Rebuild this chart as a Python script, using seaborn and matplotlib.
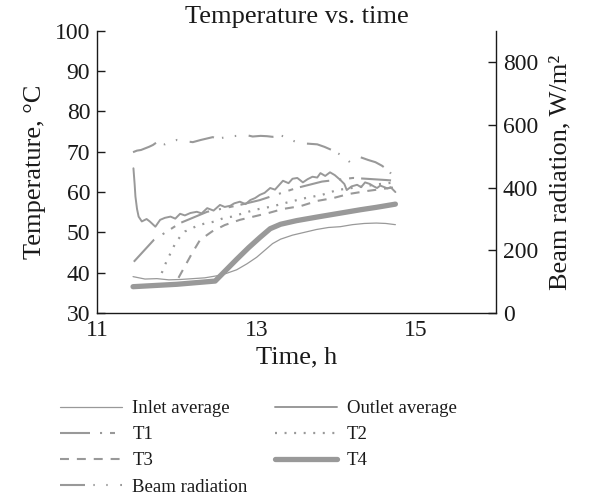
import matplotlib
matplotlib.use("Agg")
import matplotlib.pyplot as plt
import seaborn as sns
import pandas as pd

# ---------------- data ----------------
inlet_t = [11.45, 11.5, 11.6, 11.75, 11.9, 12.05, 12.2, 12.35, 12.5, 12.62, 12.75, 12.88,
           13.0, 13.1, 13.2, 13.3, 13.45, 13.6, 13.75, 13.9, 14.05, 14.2, 14.35, 14.5, 14.62, 14.74]
inlet_v = [39.0, 38.8, 38.4, 38.5, 38.2, 38.3, 38.5, 38.7, 39.2, 39.8, 40.7, 42.2,
           43.8, 45.5, 47.2, 48.3, 49.3, 50.0, 50.7, 51.2, 51.4, 51.9, 52.2, 52.3, 52.2, 51.9]

outlet_t = [11.455, 11.47, 11.48, 11.5, 11.52, 11.56, 11.62, 11.66, 11.73, 11.79, 11.85, 11.92,
            11.98, 12.04, 12.1, 12.17, 12.25, 12.31, 12.38, 12.46, 12.54, 12.6, 12.67, 12.72,
            12.79, 12.86, 12.92, 12.98, 13.04, 13.1, 13.17, 13.23, 13.33, 13.4, 13.45, 13.51,
            13.58, 13.64, 13.7, 13.76, 13.8, 13.86, 13.92, 13.98, 14.05, 14.1, 14.13, 14.19,
            14.26, 14.31, 14.36, 14.42, 14.47, 14.51, 14.55, 14.59, 14.64, 14.68, 14.71, 14.74]
outlet_v = [65.9, 62.0, 58.9, 55.8, 53.9, 52.7, 53.3, 52.7, 51.4, 53.1, 53.6, 53.9,
            53.4, 54.6, 54.2, 54.8, 55.1, 54.7, 56.0, 55.4, 56.8, 56.3, 56.6, 57.2,
            57.6, 57.0, 58.0, 58.5, 59.3, 59.8, 61.0, 60.6, 62.8, 62.2, 63.3, 63.5,
            62.4, 63.2, 63.8, 63.6, 64.7, 64.0, 64.9, 64.2, 63.0, 62.0, 60.5, 61.4,
            61.8, 61.2, 62.4, 62.0, 61.4, 61.0, 61.6, 61.3, 60.9, 61.2, 60.6, 60.0]

t1_t = [11.46, 11.71, 12.04, 12.38, 12.79, 13.04, 13.5, 13.82, 14.21, 14.61, 14.74]
t1_v = [42.7, 48.1, 52.3, 55.1, 56.8, 58.0, 61.0, 62.6, 63.5, 63.0, 62.8]

t2_t = [11.81, 11.85, 11.89, 11.94, 11.98, 12.04, 12.1, 12.19, 12.27, 12.38, 12.48, 12.58,
        12.69, 12.98, 13.19, 13.42, 13.61, 13.82, 14.01, 14.3, 14.55, 14.74]
t2_v = [39.9, 41.9, 43.6, 45.6, 47.3, 48.9, 50.2, 51.0, 51.8, 52.3, 52.7, 53.5,
        53.9, 55.6, 56.4, 57.6, 58.5, 59.3, 60.5, 61.3, 62.0, 62.4]

t3_t = [12.02, 12.19, 12.29, 12.44, 12.6, 12.79, 12.96, 13.15, 13.33, 13.55, 13.76, 13.96,
        14.15, 14.4, 14.74]
t3_v = [38.7, 44.8, 48.1, 50.2, 51.8, 53.1, 53.9, 54.8, 55.8, 56.5, 57.8, 58.5,
        59.5, 60.3, 61.2]

t4_t = [11.45, 12.0, 12.48, 12.6, 12.75, 12.9, 13.04, 13.17, 13.3, 13.5, 13.76, 14.0,
        14.3, 14.5, 14.74]
t4_v = [36.5, 37.1, 37.9, 40.3, 43.3, 46.2, 48.7, 50.9, 52.0, 52.9, 53.8, 54.6,
        55.6, 56.2, 57.0]

beam_t = [11.45, 11.5, 11.55, 11.6, 11.65, 11.7, 11.75, 11.8, 11.85, 11.9, 11.95, 12.0,
          12.1, 12.2, 12.3, 12.4, 12.45, 12.5, 12.6, 12.7, 12.8, 12.88, 12.95, 13.05,
          13.13, 13.2, 13.3, 13.38, 13.45, 13.55, 13.65, 13.76, 13.85, 13.95, 14.05, 14.13,
          14.17, 14.25, 14.3, 14.4, 14.49, 14.57, 14.65, 14.7, 14.74]
beam_v = [513, 518, 520, 525, 530, 536, 545, 540, 538, 545, 548, 552,
          548, 545, 552, 558, 561, 556, 560, 564, 566, 567, 563, 565,
          564, 562, 566, 561, 550, 541, 540, 538, 530, 519, 505, 490,
          481, 495, 497, 488, 481, 470, 455, 440, 417]

series_labels = ["Inlet average", "Outlet average", "T1", "T2", "T3", "T4", "Beam radiation"]

# ---------------- style ----------------
sns.set_style("white")
plt.rcParams["font.family"] = ["Liberation Serif", "DejaVu Serif"]
plt.rcParams["text.color"] = "#1a1a1a"
plt.rcParams["axes.labelcolor"] = "#1a1a1a"
plt.rcParams["xtick.color"] = "#1a1a1a"
plt.rcParams["ytick.color"] = "#1a1a1a"

GRAY = "#999999"

fig = plt.figure(figsize=(5.96, 4.99), dpi=100)
ax = fig.add_axes([0.163, 0.373, 0.669, 0.565])
ax2 = ax.twinx()


def df(t, v):
    return pd.DataFrame({"t": t, "v": v})


common = dict(x="t", y="v", errorbar=None, legend=False, color=GRAY)

sns.lineplot(data=df(t1_t, t1_v), ax=ax, label=series_labels[2], lw=1.5,
             linestyle=(0, (14.4, 4.8, 1.0, 3.8, 2.4, 3.4)), **common)
sns.lineplot(data=df(t2_t, t2_v), ax=ax, label=series_labels[3], lw=1.6,
             linestyle=(0, (0.9, 3.4)), **common)
sns.lineplot(data=df(t3_t, t3_v), ax=ax, label=series_labels[4], lw=1.5,
             linestyle=(0, (4.3, 3.8)), **common)
sns.lineplot(data=df(outlet_t, outlet_v), ax=ax, label=series_labels[1], lw=1.4,
             linestyle="-", **common)
sns.lineplot(data=df(inlet_t, inlet_v), ax=ax, label=series_labels[0], lw=0.9,
             linestyle="-", **common)
sns.lineplot(data=df(t4_t, t4_v), ax=ax, label=series_labels[5], lw=3.8,
             linestyle="-", **common)
sns.lineplot(data=df(beam_t, beam_v), ax=ax2, label=series_labels[6], lw=1.5,
             linestyle=(0, (12, 4, 0.7, 5.5, 0.7, 6)), **common)

# ---------------- axes ----------------
ax.set_xlim(11, 16)
ax.set_ylim(30, 100)
ax2.set_ylim(0, 900)
ax.set_xticks([11, 13, 15])
ax.set_yticks(range(30, 101, 10))
ax2.set_yticks(range(0, 801, 200))

for a in (ax, ax2):
    for s in a.spines.values():
        s.set_color("#1a1a1a")
        s.set_linewidth(1.0)
    a.spines["top"].set_visible(False)
ax.spines["right"].set_visible(False)
ax2.spines["left"].set_visible(False)
ax2.spines["bottom"].set_visible(False)

ax.tick_params(axis="both", direction="in", length=6, width=1, labelsize=17, pad=5)
ax2.tick_params(axis="y", direction="in", length=6, width=1, labelsize=17, pad=5)

ax.set_xlabel("Time, h", fontsize=19, labelpad=4)
ax.set_ylabel("Temperature, °C", fontsize=19, labelpad=6)
ax2.set_ylabel("Beam radiation, W/m²", fontsize=19, labelpad=8, rotation=90)
ax.set_title("Temperature vs. time", fontsize=19, pad=6)

# ---------------- legend ----------------
h1, l1 = ax.get_legend_handles_labels()
h2, l2 = ax2.get_legend_handles_labels()
hmap = dict(zip(l1 + l2, h1 + h2))
order = ["Inlet average", "T1", "T3", "Beam radiation", "Outlet average", "T2", "T4"]
fig.legend([hmap[k] for k in order], order, ncol=2, frameon=False,
           loc="upper left", bbox_to_anchor=(60 / 596, 1 - 400 / 499),
           borderaxespad=0, borderpad=0, fontsize=13.5,
           handlelength=3.3, handletextpad=0.55, columnspacing=1.45,
           labelspacing=0.48)

fig.savefig("out.png", dpi=100)
